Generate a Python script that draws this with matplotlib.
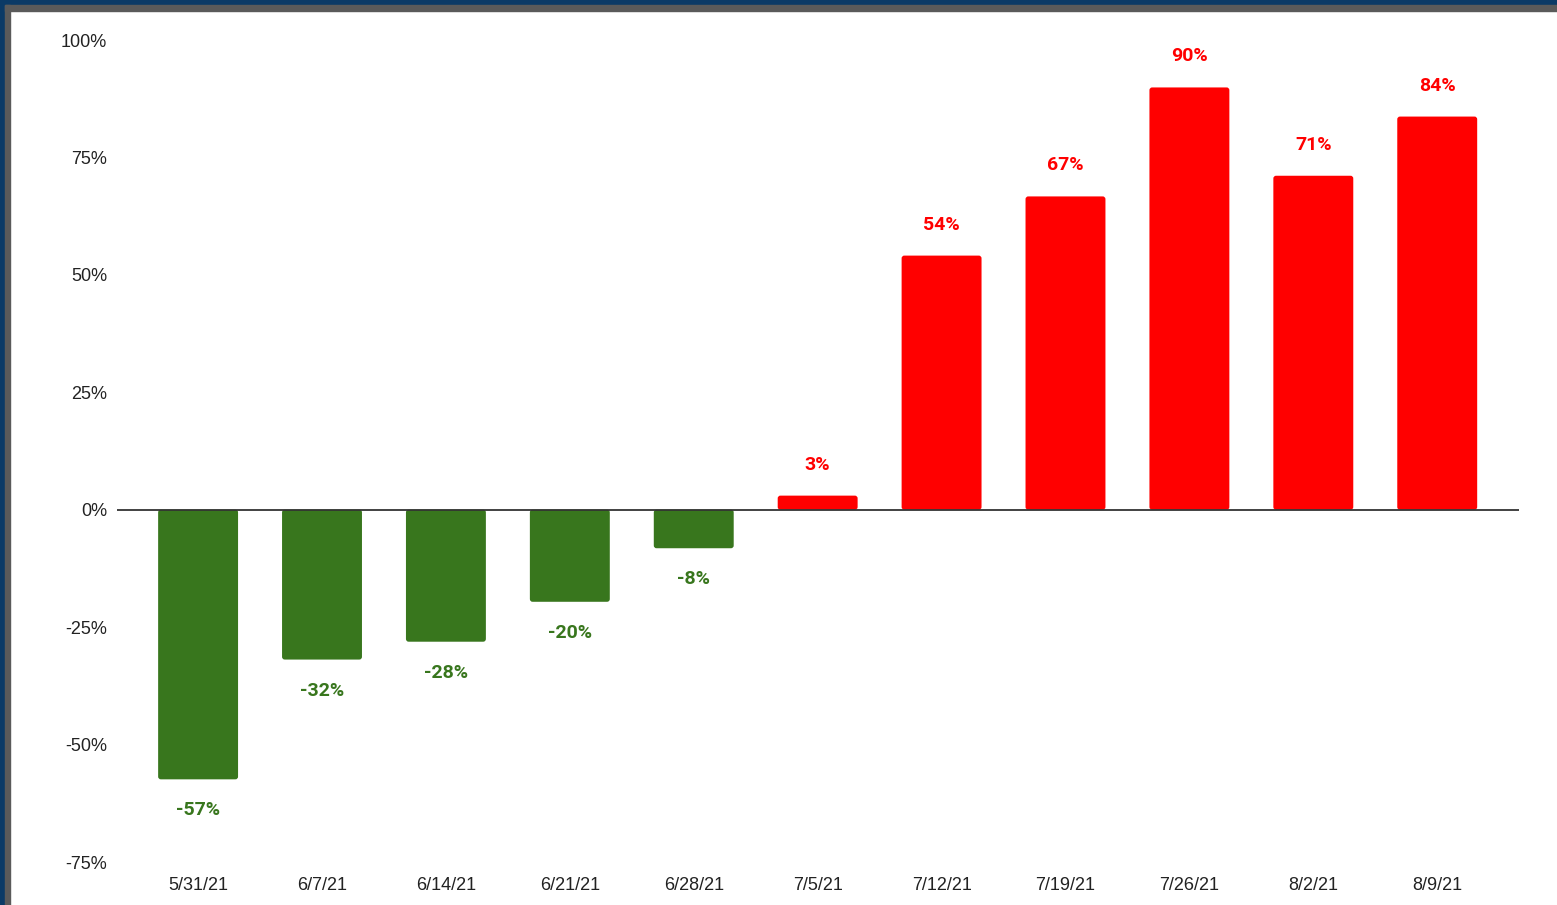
import matplotlib
matplotlib.use("Agg")
import matplotlib.pyplot as plt
from matplotlib.patches import Rectangle, FancyBboxPatch

# data (weekly % change)
dates = ["5/31/21", "6/7/21", "6/14/21", "6/21/21", "6/28/21", "7/5/21",
         "7/12/21", "7/19/21", "7/26/21", "8/2/21", "8/9/21"]
changes = [-57.4, -31.9, -28.1, -19.6, -8.2, 3.0, 54.1, 66.7, 89.9, 71.1, 83.7]
yticks = [-75, -50, -25, 0, 25, 50, 75, 100]

green = "#38761d"
red = "#ff0000"

fig = plt.figure(figsize=(15.57, 9.05), dpi=100)
ax = fig.add_axes([0.0751, 0.0475, 0.9005, 0.9083])

ax.set_xlim(-0.655, len(dates) - 1 + 0.66)
ax.set_ylim(-75, 100)

colors = [red if v > 0 else green for v in changes]
x = range(len(dates))
bars = ax.bar(x, changes, width=0.645, color=colors, zorder=2)

# swap the plain bars for slightly rounded ones
aspect = (1 / 4.697) / (1 / 124.0)
for b in bars:
    bx, by = b.get_x(), b.get_y()
    bw, bh = b.get_width(), b.get_height()
    y0 = min(by, by + bh)
    rb = FancyBboxPatch((bx, y0), bw, abs(bh),
                        boxstyle="round,pad=0,rounding_size=0.022",
                        mutation_aspect=aspect,
                        fc=b.get_facecolor(), ec="none", zorder=2)
    b.set_visible(False)
    ax.add_patch(rb)

# value labels
for i, v in enumerate(changes):
    off = 6.6 if v > 0 else -6.6
    ax.text(i, v + off, f"{round(v)}%", ha="center", va="center",
            color=colors[i], fontsize=14, fontweight="bold", family="Roboto")

ax.axhline(0, color="#333333", lw=1.3, zorder=3)

ax.set_yticks(yticks)
ax.set_yticklabels([f"{t}%" for t in yticks], family="Liberation Sans", fontsize=13)
ax.set_xticks(list(x))
ax.set_xticklabels(dates, family="Liberation Sans", fontsize=13)
ax.tick_params(axis="both", length=0, colors="#222222")
ax.tick_params(axis="y", pad=7)
ax.tick_params(axis="x", pad=11)
for s in ax.spines.values():
    s.set_visible(False)

# frame around the chart (blue outer strip, gray inner strip)
W, H = 1557, 905
fig.patches.append(Rectangle((0, 1 - 5 / H), 1, 5 / H, transform=fig.transFigure,
                             color="#0b3a66", zorder=10))
fig.patches.append(Rectangle((0, 0), 5 / W, 1, transform=fig.transFigure,
                             color="#0b3a66", zorder=10))
fig.patches.append(Rectangle((5 / W, 1 - 11 / H), 1, 6 / H, transform=fig.transFigure,
                             color="#5a5a5a", zorder=10))
fig.patches.append(Rectangle((5 / W, 0), 5 / W, 1 - 5 / H, transform=fig.transFigure,
                             color="#5a5a5a", zorder=10))

fig.savefig("out.png", dpi=100)
